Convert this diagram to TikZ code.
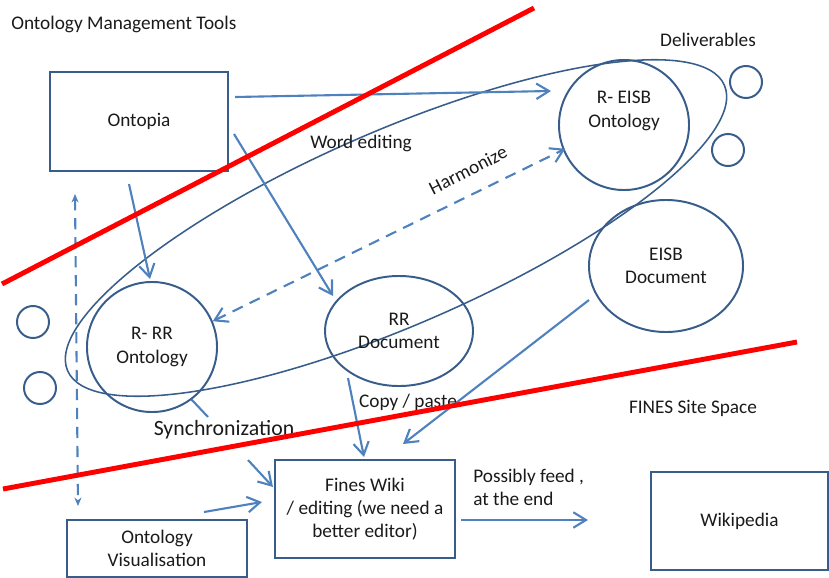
\documentclass[tikz,border=0pt]{standalone}
\usepackage{fontspec}
\setmainfont{Carlito}
\usetikzlibrary{arrows.meta,shapes.geometric}

\definecolor{linkblue}{HTML}{4F81BD}
\definecolor{shapeblue}{HTML}{385D8A}
\definecolor{textgray}{HTML}{1A1A1A}

\tikzset{
    txt/.style={text=textgray, font=\fontsize{13.7}{16.5}\selectfont, align=center, inner sep=0pt},
    box/.style={txt, draw=shapeblue, line width=1.4pt},
    disc/.style={txt, circle, draw=shapeblue, line width=1.4pt, minimum size=3.25cm},
    dot/.style={circle, draw=shapeblue, line width=1.4pt, minimum size=0.8cm, inner sep=0pt},
    oval/.style={txt, ellipse, draw=shapeblue, line width=1.4pt},
    link/.style={draw=linkblue, line width=1.5pt, -{Straight Barb[length=9pt,width=11pt]}},
    dlink/.style={link, dash pattern=on 8pt off 5.5pt, {Straight Barb[length=9pt,width=11pt]}-{Straight Barb[length=9pt,width=11pt]}},
    border/.style={red, line width=3.5pt},
}

\begin{document}
\begin{tikzpicture}[x=0.025cm, y=-0.025cm]
    \useasboundingbox (0,0) rectangle (829,578);

    % area labels
    \node[txt, anchor=west] (tools) at (11,24) {Ontology Management Tools};
    \node[txt] (site) at (693,408) {FINES Site Space};
    \node[txt] (deliv) at (708,40) {Deliverables};

    % deliverables loop
    \draw[shapeblue, line width=1.1pt, rotate around={23.5:(396,228)}]
        (396,228) ellipse [x radius=8.95cm, y radius=2.425cm];

    % boxes
    \node[box, minimum width=4.45cm, minimum height=2.475cm] (ontopia) at (139,121.5) {Ontopia};
    \node[box, minimum width=4.5cm, minimum height=2.45cm] (wiki) at (365,509)
        {Fines Wiki\\/ editing (we need a\\better editor)};
    \node[box, minimum width=4.5cm, minimum height=1.425cm] (vis) at (157,548.5)
        {Ontology\\Visualisation};
    \node[box, minimum width=4.425cm, minimum height=2.45cm] (wikipedia) at (739.5,521) {Wikipedia};

    % circles and ovals
    \node[disc] (reisb) at (624,125) {R- EISB\\Ontology\\[6pt]};
    \node[disc] (rrr) at (152,347) {R- RR\\Ontology};
    \node[oval, minimum width=3.7cm, minimum height=2.75cm] (rrdoc) at (399,331) {RR\\Document};
    \node[oval, minimum width=3.85cm, minimum height=3.3cm] (eisbdoc) at (666,266) {EISB\\Document};
    \node[dot] (d1) at (746,82) {};
    \node[dot] (d2) at (728,150) {};
    \node[dot] (d3) at (33,322) {};
    \node[dot] (d4) at (40,388) {};

    % connectors
    \draw[link] ([shift={(6,-24.5)}]ontopia.east) -- ([shift={(-7,-34)}]reisb.west);
    \draw[link] ([shift={(-10,12)}]ontopia.south) -- ([shift={(-2,-2)}]rrr.north);
    \draw[link] ([shift={(5,12.5)}]ontopia.east) -- ([shift={(9,-35)}]rrdoc.west);
    \draw[dlink] (rrr.23) -- ([shift={(2,-2)}]reisb.203);
    \draw[dlink, {Stealth[length=6pt,width=5pt]}-{Stealth[length=6pt,width=5pt]}]
        ([shift={(26,22)}]ontopia.south west) -- ([shift={(12,-13)}]vis.north west);
    \draw[link] ([shift={(-51,-9)}]rrdoc.south) -- ([shift={(-1,-2)}]wiki.north);
    \draw[link] ([shift={(1,34)}]eisbdoc.west) -- ([shift={(-53,-15)}]wiki.north east);
    \draw[link] ([shift={(47,-7)}]vis.north) -- ([shift={(-12,-7)}]wiki.west);
    \draw[link] ([shift={(5,11)}]wiki.east) -- ([shift={(-62,-1)}]wikipedia.west);

    % synchronization, broken by its label
    \coordinate (syncin) at (208,417);
    \coordinate (syncout) at (248,460);
    \draw[linkblue, line width=1.5pt] (rrr.-53) -- (syncin);
    \draw[link] (syncout) -- ([shift={(-1,-22)}]wiki.west);
    \node[txt, font=\fontsize{15.5}{18}\selectfont] (sync) at (224,430) {Synchronization};

    % connector labels
    \node[txt] (wordedit) at (361,143) {Word editing};
    \node[txt, rotate=27] (harm) at (468,170) {Harmonize};
    \node[txt] (copy) at (408,402) {Copy / paste};
    \node[txt, align=left, anchor=west] (feed) at (473,487) {Possibly feed ,\\at the end};

    % space borders
    \draw[border] (2,284) -- (534,8);
    \draw[border] (3,489) -- (797,342);
\end{tikzpicture}
\end{document}
